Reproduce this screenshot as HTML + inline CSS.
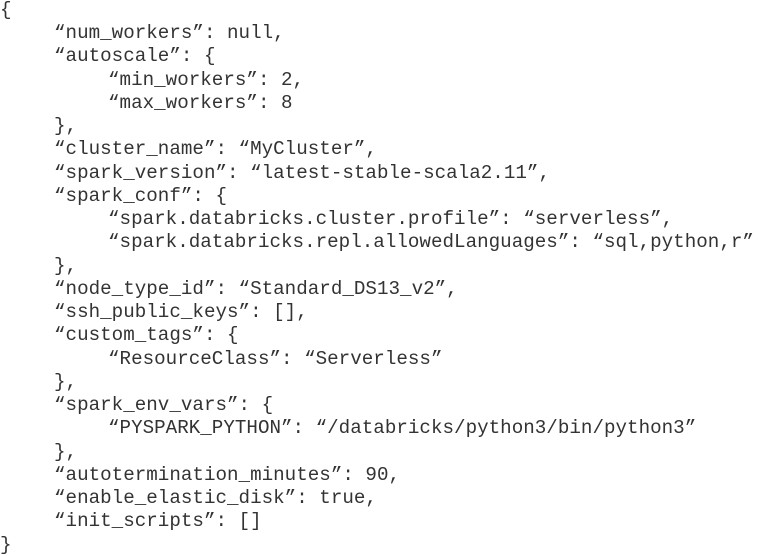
<!DOCTYPE html>
<html><head><meta charset="utf-8"><style>
html,body{margin:0;padding:0;background:#fff;width:763px;height:553px;overflow:hidden}
.l{position:absolute;font-family:"Liberation Mono","DejaVu Sans Mono",monospace;font-size:19.2px;color:#333;white-space:pre;line-height:20px;letter-spacing:0.02px}
</style></head><body>
<div class="l" style="left:0;top:0">{</div>
<div class="l" style="left:54px;top:23px">“num_workers”: null,</div>
<div class="l" style="left:54px;top:46px">“autoscale”: {</div>
<div class="l" style="left:108px;top:70px">“min_workers”: 2,</div>
<div class="l" style="left:108px;top:93px">“max_workers”: 8</div>
<div class="l" style="left:54px;top:116px">},</div>
<div class="l" style="left:54px;top:139px">“cluster_name”: “MyCluster”,</div>
<div class="l" style="left:54px;top:163px">“spark_version”: “latest-stable-scala2.11”,</div>
<div class="l" style="left:54px;top:186px">“spark_conf”: {</div>
<div class="l" style="left:108px;top:209px">“spark.databricks.cluster.profile”: “serverless”,</div>
<div class="l" style="left:108px;top:232px">“spark.databricks.repl.allowedLanguages”: “sql,python,r”</div>
<div class="l" style="left:54px;top:256px">},</div>
<div class="l" style="left:54px;top:279px">“node_type_id”: “Standard_DS13_v2”,</div>
<div class="l" style="left:54px;top:302px">“ssh_public_keys”: [],</div>
<div class="l" style="left:54px;top:325px">“custom_tags”: {</div>
<div class="l" style="left:108px;top:349px">“ResourceClass”: “Serverless”</div>
<div class="l" style="left:54px;top:372px">},</div>
<div class="l" style="left:54px;top:395px">“spark_env_vars”: {</div>
<div class="l" style="left:108px;top:418px">“PYSPARK_PYTHON”: “/databricks/python3/bin/python3”</div>
<div class="l" style="left:54px;top:442px">},</div>
<div class="l" style="left:54px;top:465px">“autotermination_minutes”: 90,</div>
<div class="l" style="left:54px;top:488px">“enable_elastic_disk”: true,</div>
<div class="l" style="left:54px;top:511px">“init_scripts”: []</div>
<div class="l" style="left:0;top:535px">}</div>
</body></html>
